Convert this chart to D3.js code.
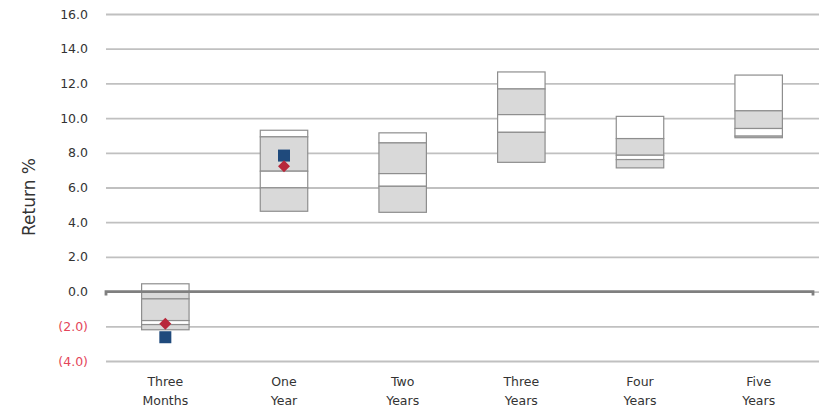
<!DOCTYPE html>
<html>
<head>
<meta charset="utf-8">
<script src="https://cdn.jsdelivr.net/npm/d3@7/dist/d3.min.js"></script>
<style>
    body { margin: 0; background: #fff; }
    svg { display: block; }
</style>
</head>
<body>
<div id="chart-div"></div>
<script>
//---------------------------------//
// Data                            //
//---------------------------------//

var categories = ['Three Months', 'One Year', 'Two Years', 'Three Years', 'Four Years', 'Five Years'];

// segment edges, top to bottom, one list per category
var boxEdges = [
    [0.45, 0.0, -0.42, -1.67, -1.9, -2.2],
    [9.30, 8.92, 6.94, 5.98, 4.63],
    [9.15, 8.57, 6.80, 6.07, 4.57],
    [12.66, 11.68, 10.20, 9.18, 7.45],
    [10.10, 8.82, 7.86, 7.61, 7.13],
    [12.48, 10.42, 9.40, 8.96, 8.87]
];

// fill of each segment ('w' white, 'g' grey)
var boxFills = [
    ['w', 'g', 'g', 'w', 'g'],
    ['w', 'g', 'w', 'g'],
    ['w', 'g', 'w', 'g'],
    ['w', 'g', 'w', 'g'],
    ['w', 'g', 'w', 'g'],
    ['w', 'g', 'w', 'g']
];

var squareValues = [-2.63, 7.84, null, null, null, null];
var diamondValues = [-1.85, 7.22, null, null, null, null];

var yTicks = [-4, -2, 0, 2, 4, 6, 8, 10, 12, 14, 16];

//---------------------------------//
// Chart                           //
//---------------------------------//

window.Chart = window.Chart || {};

Chart.init = function() {
    Chart.width = 819;
    Chart.height = 408;
    Chart.left = 106;
    Chart.right = 818;

    Chart.svg = d3.select('#chart-div').append('svg')
        .attr('width', Chart.width)
        .attr('height', Chart.height);

    Chart.x = d3.scaleBand()
        .domain(categories)
        .range([Chart.left, Chart.right])
        .paddingInner(0.6)
        .paddingOuter(0.3);

    Chart.y = d3.scaleLinear()
        .domain([-4, 16])
        .range([361, 14]);

    Chart.drawGrid();
    Chart.drawBoxes();
    Chart.drawZeroLine();
    Chart.drawMarkers();
    Chart.drawLabels();
};

Chart.drawGrid = function() {
    var yAxis = d3.axisLeft(Chart.y)
        .tickValues(yTicks)
        .tickSize(-(Chart.width - Chart.left))
        .tickPadding(18)
        .tickFormat(function(d) {
            var s = Math.abs(d).toFixed(1);
            return d < 0 ? '(' + s + ')' : s;
        });

    var g = Chart.svg.append('g')
        .attr('transform', 'translate(' + Chart.left + ',0)')
        .call(yAxis);

    g.select('.domain').remove();
    g.selectAll('.tick line')
        .attr('stroke', '#c0c0c0')
        .attr('stroke-width', 1.8);
    g.selectAll('.tick text')
        .attr('font-family', 'DejaVu Sans, sans-serif')
        .attr('font-size', 12.5)
        .attr('fill', function(d) { return d < 0 ? '#e4455a' : '#333333'; });
};

Chart.drawBoxes = function() {
    var rows = [];
    categories.forEach(function(c, i) {
        var edges = boxEdges[i];
        for (var k = 0; k < edges.length - 1; k++) {
            rows.push({cat: c, top: edges[k], bottom: edges[k + 1], fill: boxFills[i][k]});
        }
    });

    Chart.svg.append('g').selectAll('rect')
        .data(rows)
        .join('rect')
        .attr('x', function(d) { return Chart.x(d.cat); })
        .attr('width', Chart.x.bandwidth())
        .attr('y', function(d) { return Chart.y(d.top); })
        .attr('height', function(d) { return Chart.y(d.bottom) - Chart.y(d.top); })
        .attr('fill', function(d) { return d.fill === 'g' ? '#d9d9d9' : '#ffffff'; })
        .attr('stroke', '#8e8e8e')
        .attr('stroke-width', 1.2);
};

Chart.drawZeroLine = function() {
    var y0 = Chart.y(0);
    Chart.svg.append('path')
        .attr('d', 'M' + Chart.left + ',' + (y0 + 4) + 'V' + y0 + 'H' + 813 + 'V' + (y0 + 4))
        .attr('fill', 'none')
        .attr('stroke', '#7f7f7f')
        .attr('stroke-width', 2.8);
};

Chart.drawMarkers = function() {
    var cx = function(i) { return Chart.x(categories[i]) + Chart.x.bandwidth() / 2; };

    var sq = squareValues.map(function(v, i) { return {i: i, v: v}; })
        .filter(function(d) { return d.v !== null; });
    Chart.svg.append('g').selectAll('rect')
        .data(sq)
        .join('rect')
        .attr('x', function(d) { return cx(d.i) - 6; })
        .attr('y', function(d) { return Chart.y(d.v) - 6; })
        .attr('width', 12)
        .attr('height', 12)
        .attr('fill', '#1f4a7c');

    var dm = diamondValues.map(function(v, i) { return {i: i, v: v}; })
        .filter(function(d) { return d.v !== null; });
    Chart.svg.append('g').selectAll('path')
        .data(dm)
        .join('path')
        .attr('transform', function(d) { return 'translate(' + cx(d.i) + ',' + Chart.y(d.v) + ')'; })
        .attr('d', 'M0,-6L6,0L0,6L-6,0Z')
        .attr('fill', '#b8283b');
};

Chart.drawLabels = function() {
    var g = Chart.svg.append('g')
        .attr('font-family', 'DejaVu Sans, sans-serif')
        .attr('font-size', 12.5)
        .attr('fill', '#333333')
        .attr('text-anchor', 'middle');

    g.selectAll('text')
        .data(categories)
        .join('text')
        .attr('x', function(d) { return Chart.x(d) + Chart.x.bandwidth() / 2; })
        .attr('y', 386)
        .each(function(d) {
            var parts = d.split(' ');
            d3.select(this).append('tspan')
                .attr('x', Chart.x(d) + Chart.x.bandwidth() / 2)
                .text(parts[0]);
            d3.select(this).append('tspan')
                .attr('x', Chart.x(d) + Chart.x.bandwidth() / 2)
                .attr('dy', 19)
                .text(parts[1]);
        });

    Chart.svg.append('text')
        .attr('transform', 'translate(35,197) rotate(-90)')
        .attr('text-anchor', 'middle')
        .attr('font-family', 'DejaVu Sans, sans-serif')
        .attr('font-size', 17)
        .attr('fill', '#333333')
        .text('Return %');
};

document.addEventListener('DOMContentLoaded', Chart.init);
</script>
</body>
</html>
